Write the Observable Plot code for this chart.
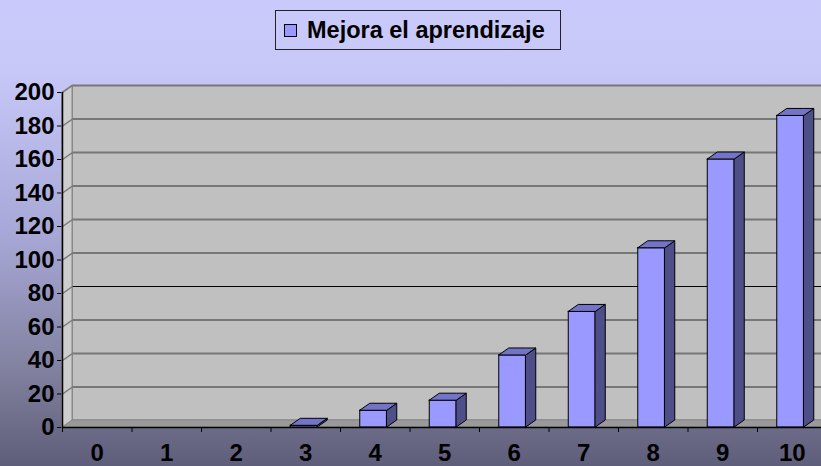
<!DOCTYPE html>
<html>
<head>
<meta charset="utf-8">
<script src="https://cdn.jsdelivr.net/npm/d3@7"></script>
<script src="https://cdn.jsdelivr.net/npm/@observablehq/plot@0.6"></script>
<style>
  html, body { margin: 0; padding: 0; }
  #chart {
    width: 821px; height: 466px; overflow: hidden; position: relative;
    background: linear-gradient(to bottom, #c9c9fb 0%, #c8c8f8 15%, #a8a8d8 50%, #80809e 80%, #5e5e7a 100%);
    font-family: "Liberation Sans", Arial, sans-serif;
  }
  #legend {
    height: 70px; position: relative;
  }
  #legend .box {
    position: absolute; left: 275px; top: 10px; width: 284px; height: 38px;
    border: 1.5px solid #222; display: flex; align-items: center;
    box-sizing: content-box;
  }
  #legend .sw {
    width: 11px; height: 11px; background: #9999ff; border: 1px solid #000;
    margin-left: 8px; margin-right: 10px;
  }
  #legend .lab { font-weight: bold; font-size: 23.5px; color: #000; white-space: nowrap; }
  svg { display: block; background: transparent; }
</style>
</head>
<body>
<div id="chart">
  <div id="legend"><div class="box"><div class="sw"></div><div class="lab" id="legendText"></div></div></div>
</div>
<script>
// ---- data ----
const seriesName = "Mejora el aprendizaje";
const categories = [0, 1, 2, 3, 4, 5, 6, 7, 8, 9, 10];
const values     = [0, 0, 0, 1, 10, 16, 43, 69, 107, 160, 186];
const yTicks     = [0, 20, 40, 60, 80, 100, 120, 140, 160, 180, 200];

document.getElementById("legendText").textContent = seriesName;

// ---- layout / style constants ----
const W = 821, H = 396;
const mL = 62, mR = 0, mT = 22, mB = 39;
const xMin = -0.5, xMax = -0.5 + (W - mL - mR) / 69.5;
const yMax = 200;
const pxPerX = (W - mL - mR) / (xMax - xMin);
const pxPerY = (H - mT - mB) / yMax;
const DXpx = 10, DYpx = 7;
const DX = DXpx / pxPerX, DY = DYpx / pxPerY;
const halfW = 13.5 / pxPerX, shift = -1.5 / pxPerX;

const boundaries = d3.range(categories.length + 1).map(i => i - 0.5);

// 3D faces built from values
const bars = categories.map((c, i) => ({c, v: values[i], xl: c + shift - halfW, xr: c + shift + halfW})).filter(d => d.v > 0);
const sidePts = bars.flatMap(b => [
  {id: b.c, x: b.xr, y1: 0, y2: b.v},
  {id: b.c, x: b.xr + DX, y1: DY, y2: b.v + DY}
]);
const topPts = bars.flatMap(b => [
  {id: b.c, x: b.xl, y1: b.v, y2: b.v},
  {id: b.c, x: b.xl + DX, y1: b.v, y2: b.v + DY},
  {id: b.c, x: b.xr, y1: b.v, y2: b.v + DY},
  {id: b.c, x: b.xr + DX, y1: b.v + DY, y2: b.v + DY}
]);
const leftWall = [{x: xMin, y1: 0, y2: yMax}, {x: xMin + DX, y1: DY, y2: yMax + DY}];
const floor = [{x: xMin, y1: 0, y2: 0}, {x: xMin + DX, y1: 0, y2: DY}, {x: xMax + 1, y1: 0, y2: DY}];

const chart = Plot.plot({
  width: W, height: H,
  marginLeft: mL, marginRight: mR, marginTop: mT, marginBottom: mB,
  style: {background: "transparent", fontFamily: "Liberation Sans, Arial, sans-serif", fontWeight: "bold", fontSize: "24px", color: "#000", overflow: "hidden"},
  x: {domain: [xMin, xMax], ticks: boundaries, tickFormat: () => "", tickSize: 5, label: null},
  y: {domain: [0, yMax], ticks: yTicks, tickSize: 5, tickPadding: 3, label: null},
  marks: [
    // back wall
    Plot.frame({fill: "#c0c0c0", stroke: "#888", dx: DXpx, dy: -DYpx}),
    // back wall gridlines
    Plot.ruleY(yTicks, {stroke: d => d === 80 ? "#000" : "#777", strokeWidth: d => d === 80 ? 1.2 : 2, dx: DXpx, dy: -DYpx}),
    // floor
    Plot.areaY(floor, {x: "x", y1: "y1", y2: "y2", fill: "#9a9a9a", stroke: "#888", strokeWidth: 1}),
    // left wall
    Plot.areaY(leftWall, {x: "x", y1: "y1", y2: "y2", fill: "#cdcdcd", stroke: "#888", strokeWidth: 1}),
    Plot.link(yTicks.slice(1), {x1: xMin, y1: d => d, x2: xMin + DX, y2: d => d + DY, stroke: "#777", strokeWidth: 1.5}),
    // bars: front, side, top
    Plot.rect(bars, {x1: "xl", x2: "xr", y1: 0, y2: "v", fill: "#9999ff", stroke: "#000", strokeWidth: 1}),
    Plot.areaY(sidePts, {x: "x", y1: "y1", y2: "y2", z: "id", fill: "#4e4e88", stroke: "#000", strokeWidth: 1}),
    Plot.areaY(topPts, {x: "x", y1: "y1", y2: "y2", z: "id", fill: "#7373c8", stroke: "#000", strokeWidth: 1}),
    // axes lines
    Plot.ruleX([xMin], {y1: 0, y2: yMax, stroke: "#000", strokeWidth: 1.5}),
    Plot.ruleY([0], {stroke: "#000", strokeWidth: 1.5}),
    // category labels
    Plot.text(categories, {x: d => d, y: 0, dy: 26, text: d => String(d), fontSize: 24, fontWeight: "bold", fill: "#000"})
  ]
});
document.getElementById("chart").appendChild(chart);
</script>
</body>
</html>
